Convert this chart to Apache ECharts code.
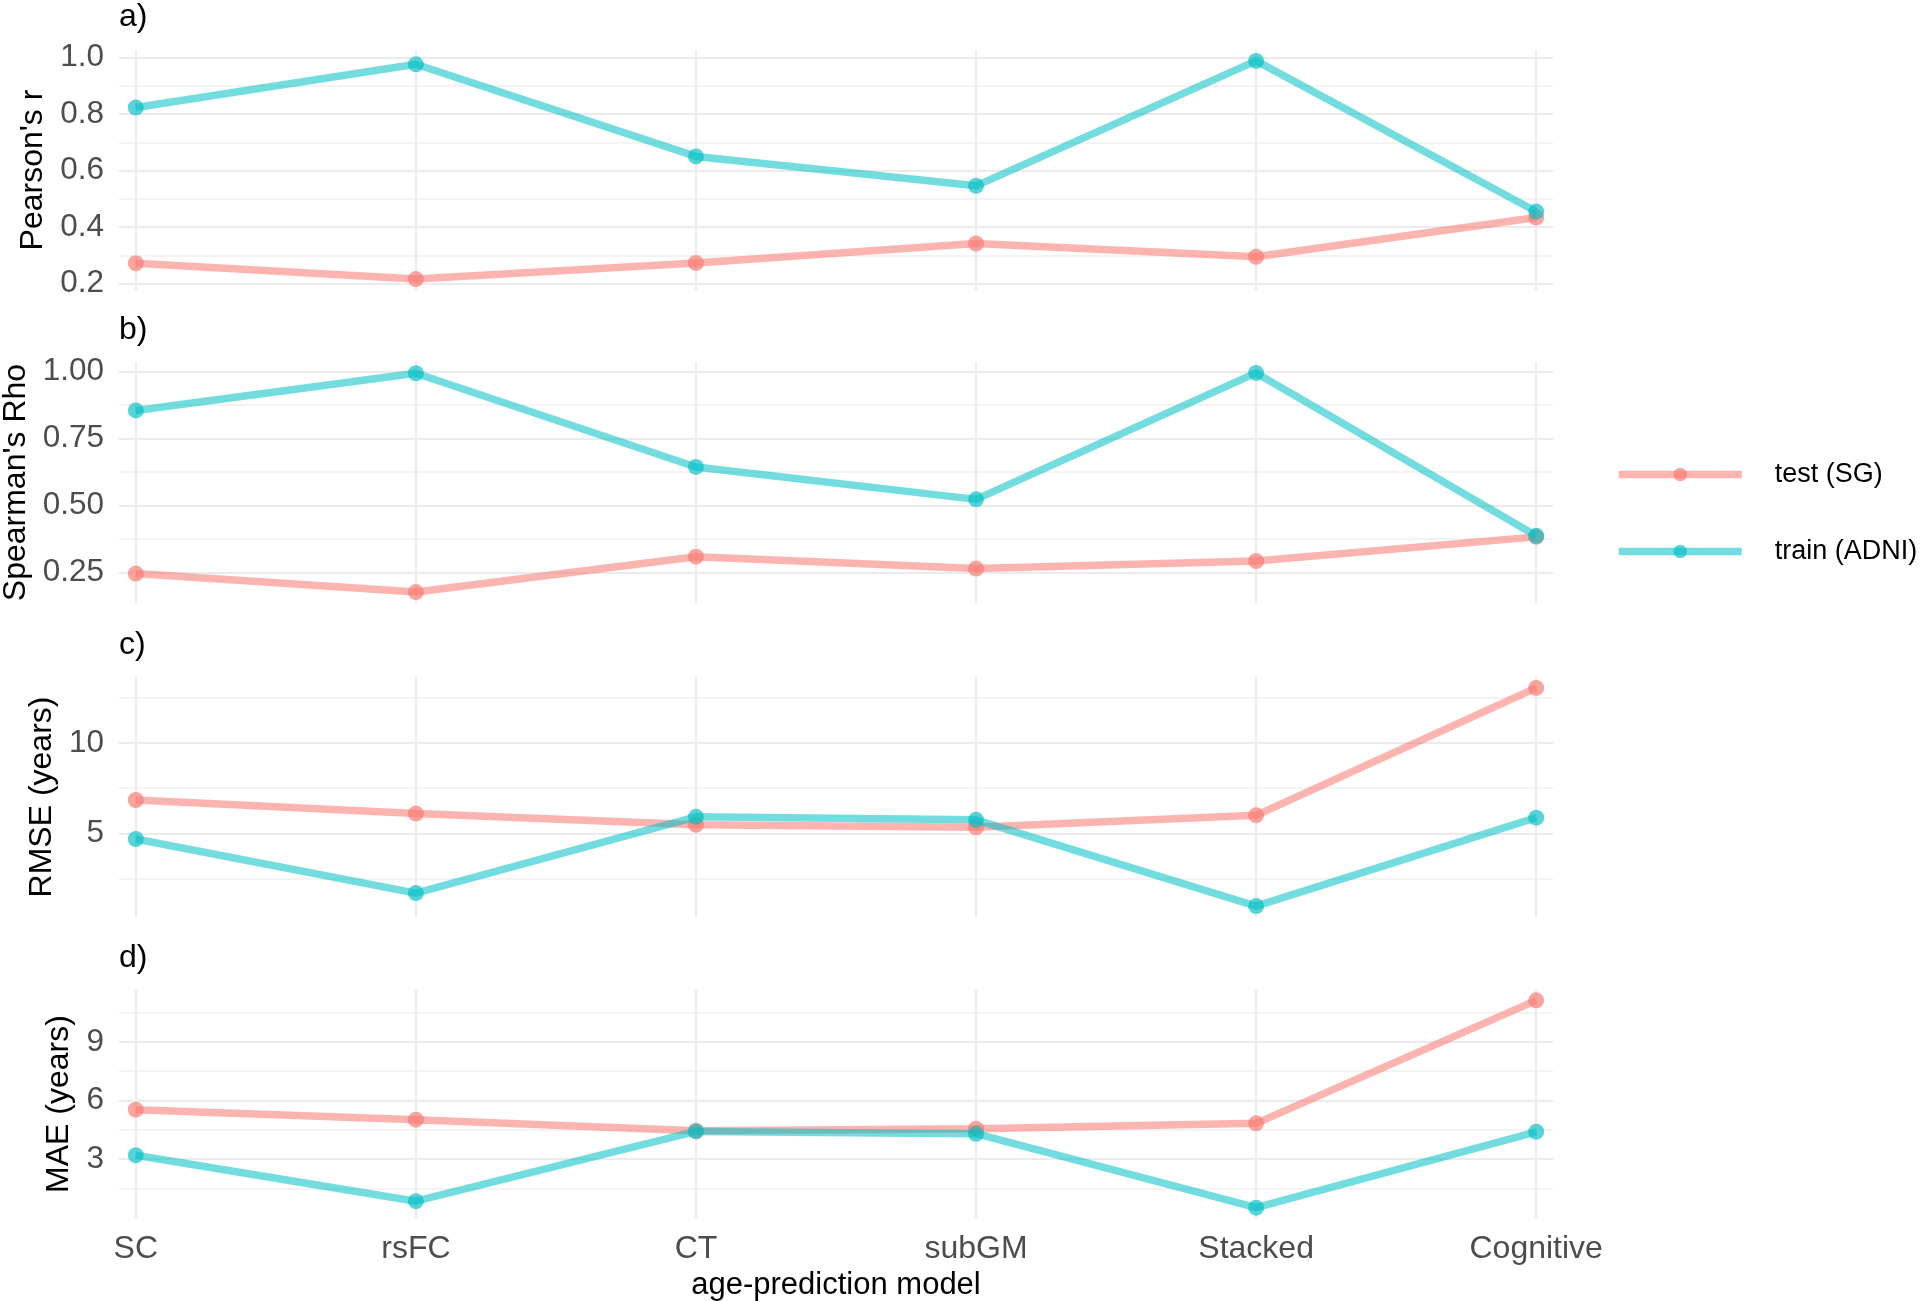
<!DOCTYPE html>
<html><head><meta charset="utf-8">
<script src="https://cdn.jsdelivr.net/npm/echarts@6/dist/echarts.min.js"></script>
<style>html,body{margin:0;padding:0;background:#fff}#chart{width:1920px;height:1301px}</style>
</head><body><div id="chart"></div>
<script>
// ---------- data ----------
const categories = ['SC', 'rsFC', 'CT', 'subGM', 'Stacked', 'Cognitive'];
const seriesNames = ['test (SG)', 'train (ADNI)'];

const pearsonTest  = [0.272, 0.216, 0.273, 0.342, 0.295, 0.434];
const pearsonTrain = [0.823, 0.976, 0.650, 0.546, 0.988, 0.455];

const spearmanTest  = [0.246, 0.177, 0.309, 0.265, 0.293, 0.383];
const spearmanTrain = [0.855, 0.994, 0.644, 0.523, 0.995, 0.387];

const rmseTest  = [6.85, 6.10, 5.48, 5.34, 6.00, 13.05];
const rmseTrain = [4.69, 1.70, 5.92, 5.75, 0.98, 5.87];

const maeTest  = [5.53, 5.02, 4.45, 4.56, 4.83, 11.12];
const maeTrain = [3.20, 0.85, 4.42, 4.30, 0.52, 4.40];

const xTicks = [0, 1, 2, 3, 4, 5];
const pearsonLabels = [0.2, 0.4, 0.6, 0.8, 1.0];
const pearsonLines  = [0.2, 0.3, 0.4, 0.5, 0.6, 0.7, 0.8, 0.9, 1.0];
const spearmanLabels = [0.25, 0.5, 0.75, 1.0];
const spearmanLines  = [0.25, 0.375, 0.5, 0.625, 0.75, 0.875, 1.0];
const rmseLabels = [5, 10];
const rmseLines  = [2.5, 5, 7.5, 10, 12.5];
const maeLabels = [3, 6, 9];
const maeLines  = [1.5, 3, 4.5, 6, 7.5, 9, 10.5];

// ---------- styling / layout ----------
const FONT = 'Liberation Sans';
const COLORS = ['#F8766D', '#00BFC4'];
const MAJOR = '#ebebeb', MINOR = '#f3f3f3';
const LINE_W = 7.5, LINE_OP = 0.55, PT_SIZE = 16, PT_OP = 0.65;

const panels = [
  { tag: 'a)', title: "Pearson's r", test: pearsonTest, train: pearsonTrain, labels: pearsonLabels, lines: pearsonLines, dec: 1,
    top: 50, height: 240, nameGap: 67, tagTop: 1, lineColors: [MAJOR, MINOR] },
  { tag: 'b)', title: "Spearman's Rho", test: spearmanTest, train: spearmanTrain, labels: spearmanLabels, lines: spearmanLines, dec: 2,
    top: 362, height: 241, nameGap: 86.5, tagTop: 314, lineColors: [MAJOR, MINOR] },
  { tag: 'c)', title: 'RMSE (years)', test: rmseTest, train: rmseTrain, labels: rmseLabels, lines: rmseLines, dec: 0,
    top: 677, height: 240, nameGap: 55, tagTop: 629, lineColors: [MINOR, MAJOR] },
  { tag: 'd)', title: 'MAE (years)', test: maeTest, train: maeTrain, labels: maeLabels, lines: maeLines, dec: 0,
    top: 990, height: 228, nameGap: 41, tagTop: 942, lineColors: [MINOR, MAJOR] }
];

const GRID_LEFT = 119, GRID_RIGHT = 1920 - 1553;

function expandRange(a, b) {
  const all = a.concat(b);
  const lo = Math.min.apply(null, all), hi = Math.max.apply(null, all);
  const pad = (hi - lo) * 0.05;
  return [lo - pad, hi + pad];
}

const grid = [], xAxis = [], yAxis = [], series = [], title = [];

panels.forEach((p, i) => {
  grid.push({ left: GRID_LEFT, right: GRID_RIGHT, top: p.top, height: p.height,
    containLabel: false, outerBoundsMode: 'none' });
  title.push({ text: p.tag, left: 119, top: p.tagTop, padding: 0,
    textStyle: { fontFamily: FONT, fontSize: 32, fontWeight: 'normal', color: '#000' } });
  const last = i === panels.length - 1;
  xAxis.push({
    type: 'value', gridIndex: i, min: -0.06, max: 5.06,
    axisLine: { show: false },
    axisTick: { show: false, customValues: xTicks },
    axisLabel: { show: last, customValues: xTicks, margin: 15,
      formatter: v => categories[Math.round(v)] || '',
      fontFamily: FONT, fontSize: 32, color: '#4d4d4d' },
    splitLine: { show: true, lineStyle: { color: MAJOR, width: 2 } },
    name: last ? 'age-prediction model' : '',
    nameLocation: 'middle', nameGap: 52,
    nameTextStyle: { fontFamily: FONT, fontSize: 31, color: '#000' }
  });
  const r = expandRange(p.test, p.train);
  yAxis.push({
    type: 'value', gridIndex: i, min: r[0], max: r[1],
    axisLine: { show: false },
    axisTick: { show: false, customValues: p.lines },
    axisLabel: { customValues: p.labels, margin: 15,
      formatter: v => Number(v).toFixed(p.dec),
      fontFamily: FONT, fontSize: 31.5, color: '#4d4d4d' },
    splitLine: { show: true, lineStyle: { color: p.lineColors, width: 2 } },
    name: p.title, nameLocation: 'middle', nameRotate: 90, nameGap: p.nameGap,
    nameTextStyle: { fontFamily: FONT, fontSize: 32, color: '#000' }
  });
  [p.test, p.train].forEach((vals, s) => {
    series.push({
      type: 'line', name: seriesNames[s], xAxisIndex: i, yAxisIndex: i,
      data: vals.map((v, k) => [k, v]),
      symbol: 'circle', symbolSize: PT_SIZE,
      lineStyle: { width: LINE_W, color: COLORS[s], opacity: LINE_OP },
      itemStyle: { color: COLORS[s], opacity: PT_OP },
      emphasis: { disabled: true },
      z: 2 + s
    });
  });
});

const chart = echarts.init(document.getElementById('chart'), null, { renderer: 'canvas' });
chart.setOption({
  animation: false,
  backgroundColor: '#fff',
  title, grid, xAxis, yAxis, series,
  legend: {
    orient: 'vertical', left: 1615, top: 461, padding: 0,
    itemWidth: 123, itemHeight: 17, itemGap: 50,
    data: seriesNames, selectedMode: false,
    lineStyle: { width: LINE_W, opacity: LINE_OP },
    itemStyle: { opacity: PT_OP },
    textStyle: { fontFamily: FONT, fontSize: 27, color: '#000', padding: [0, 0, 0, 28] }
  }
});
</script>
</body></html>
